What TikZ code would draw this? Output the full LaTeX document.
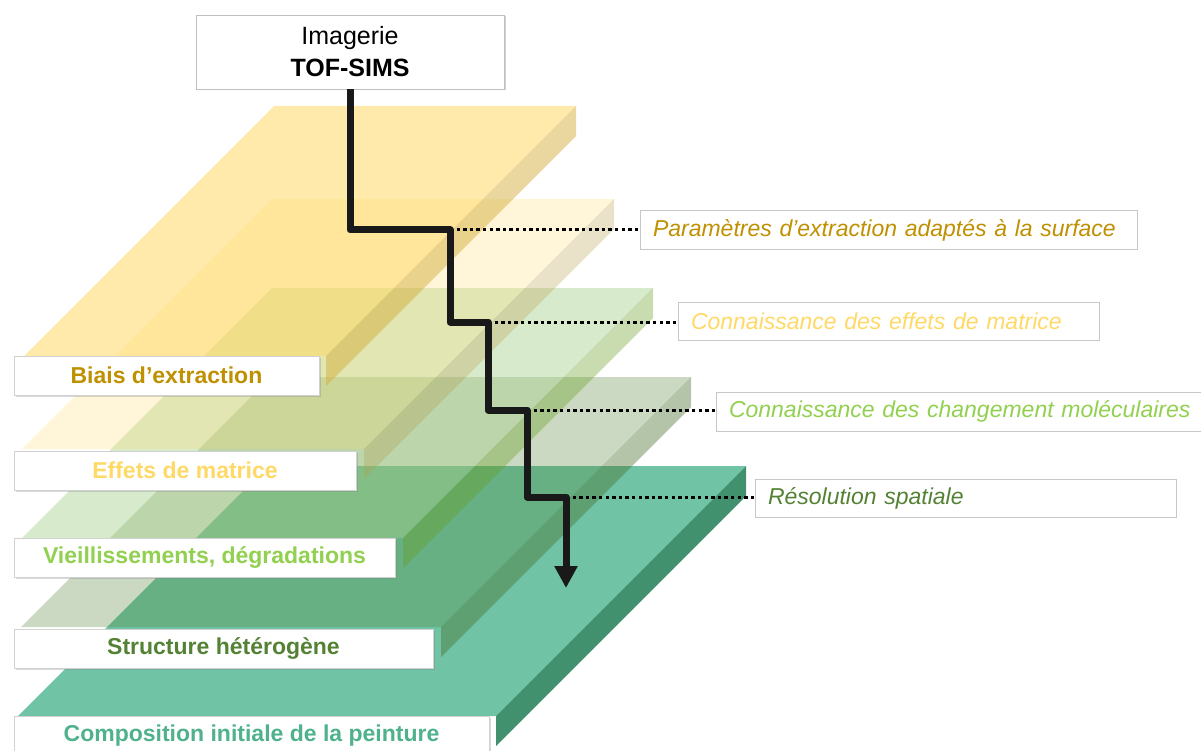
\documentclass[tikz,border=0pt]{standalone}
\usepackage{fontspec}
\setmainfont{Liberation Sans}
\usetikzlibrary{arrows.meta,shadows}
\definecolor{cGold}{HTML}{BF9000}
\definecolor{cYel}{HTML}{FFD966}
\definecolor{cLGreen}{HTML}{92D050}
\definecolor{cDGreen}{HTML}{548235}
\definecolor{cTealTxt}{HTML}{4FB28C}
\definecolor{fOne}{HTML}{FFD966}
\definecolor{sOne}{RGB}{212,176,64}
\definecolor{fTwo}{HTML}{FFD966}
\definecolor{sTwo}{RGB}{182,155,72}
\definecolor{fThree}{HTML}{A9D18E}
\definecolor{sThree}{RGB}{98,155,26}
\definecolor{fFour}{HTML}{548235}
\definecolor{sFour}{RGB}{68,108,38}
\definecolor{fFive}{HTML}{70C4A5}
\definecolor{sFive}{HTML}{41916F}
\newcommand{\drawslab}[7]{%
  \fill[#4, fill opacity=#5] (#1,#3) -- (#2,#3) -- ({#2-250},{#3+250}) -- ({#1-250},{#3+250}) -- cycle;
  \fill[#6, fill opacity=#7] (#2,#3) -- (#2,{#3+30}) -- ({#2-250},{#3+280}) -- ({#2-250},{#3+250}) -- cycle;
}
\tikzset{
  lbox/.style={draw=black!18, fill=white, line width=0.8pt, inner sep=0pt,
    drop shadow={shadow xshift=2pt, shadow yshift=-2pt, opacity=0.3},
    font=\fontsize{23}{27}\selectfont\bfseries},
  rbox/.style={draw=black!22, fill=white, line width=1pt, inner xsep=13pt, inner ysep=0pt,
    align=left, font=\fontsize{23}{27}\selectfont\itshape},
  topbox/.style={draw=black!25, fill=white, line width=0.8pt, inner sep=0pt, align=center,
    drop shadow={shadow xshift=1.5pt, shadow yshift=-1.5pt, opacity=0.35},
    font=\fontsize{25}{32}\selectfont},
  dots/.style={line width=3pt, black, dash pattern=on 3.3pt off 3.3pt},
  stair/.style={line width=7pt, black!90, line join=round,
    -{Triangle[width=22pt,length=22pt]}}
}
\begin{document}
\begin{tikzpicture}[x=1pt,y=-1pt]
\useasboundingbox (0,0) rectangle (1201,751);
\clip (0,0) rectangle (1201,751);
% layers (bottom first)
\drawslab{268}{746}{466}{fFive}{1}{sFive}{1}
\drawslab{271}{691}{377}{fFour}{0.3}{sFour}{0.4}
\drawslab{272}{653}{288}{fThree}{0.45}{sThree}{0.35}
\drawslab{272}{614}{199}{fTwo}{0.25}{sTwo}{0.3}
\drawslab{274}{576}{106}{fOne}{0.55}{sOne}{0.5}
% top box
\node[topbox, minimum width=308pt, minimum height=74pt] (top) at (350,52) {Imagerie\\\textbf{TOF-SIMS}};
% left labels
\node[lbox, minimum width=305pt, minimum height=39pt, text=cGold] (b1) at (166.5,375.5) {Biais d’extraction};
\node[lbox, minimum width=342pt, minimum height=39pt, text=cYel] (b2) at (185,470.5) {Effets de matrice};
\node[lbox, minimum width=381pt, minimum height=39pt, text=cLGreen] (b3) at (204.5,557.5) {Vieillissements, dégradations};
\node[lbox, minimum width=419pt, minimum height=39pt, text=cDGreen] (b4) at (223.5,648.5) {Structure hétérogène};
\node[lbox, minimum width=475pt, minimum height=40pt, text=cTealTxt] (b5) at (251.5,736) {Composition initiale de la peinture};
% right labels
\node[rbox, text width=471pt, minimum height=39pt, text=cGold] (r1) at (888.5,230.5) {Paramètres d’extraction adaptés à la surface};
\node[rbox, text width=395pt, minimum height=38pt, text=cYel] (r2) at (888.5,321) {Connaissance des effets de matrice};
\node[rbox, text width=473pt, minimum height=39pt, text=cLGreen] (r3) at (965.5,411.5) {Connaissance des changement moléculaires};
\node[rbox, text width=395pt, minimum height=38pt, text=cDGreen] (r4) at (965.5,498) {Résolution spatiale};
% staircase corners
\coordinate (s1) at (450,230);
\coordinate (s2) at (488,322);
\coordinate (s3) at (527,410);
\coordinate (s4) at (566,497);
\coordinate (tip) at (566,588);
% dotted leaders
\draw[dots] (s1) -- (s1 -| r1.west);
\draw[dots] (s2) -- (s2 -| r2.west);
\draw[dots] (s3) -- (s3 -| r3.west);
\draw[dots] (s4) -- (s4 -| r4.west);
% staircase arrow
\draw[stair] (top.south) |- (s1) |- (s2) |- (s3) |- (s4) -- (tip);
\end{tikzpicture}
\end{document}
